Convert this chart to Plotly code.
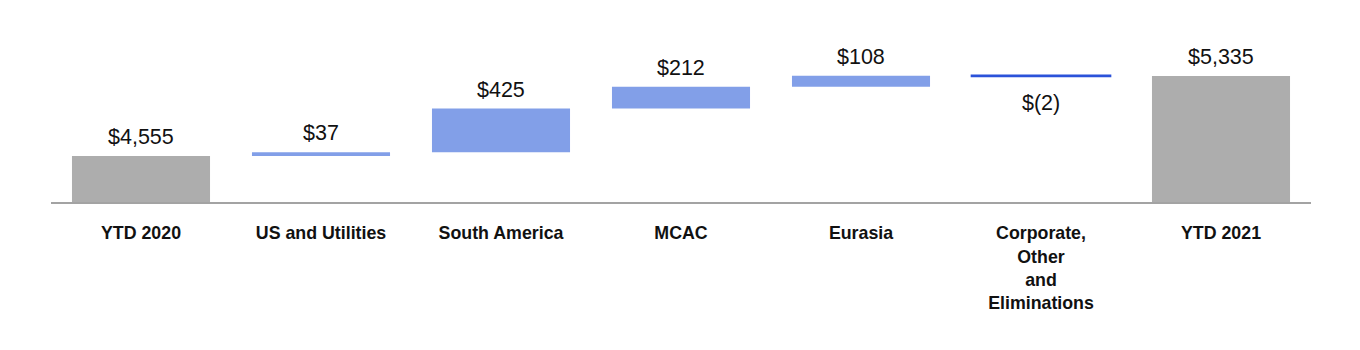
import plotly.graph_objects as go

# Operating figures, YTD 2020 -> YTD 2021 bridge ($ millions)
categories = ["YTD 2020", "US and Utilities", "South America", "MCAC", "Eurasia",
              "Corporate,<br>Other<br>and<br>Eliminations", "YTD 2021"]
changes = [4555, 37, 425, 212, 108, -2, 5335]
kinds = ["total", "step", "step", "step", "step", "step", "total"]
value_labels = ["$4,555", "$37", "$425", "$212", "$108", "$(2)", "$5,335"]

GRAY = "#adadad"
BLUE = "#829fe8"
DARK_BLUE = "#2b52d9"

# floating bar bases from the running total
bases, heights, colors, line_w = [], [], [], []
running = 0
for kind, v in zip(kinds, changes):
    if kind == "total":
        bases.append(0)
        heights.append(v)
        running = v
        colors.append(GRAY)
        line_w.append(0)
    else:
        bases.append(running)
        heights.append(v)
        running += v
        if v < 0:
            colors.append(DARK_BLUE)
            line_w.append(2.6)
        else:
            colors.append(BLUE)
            line_w.append(0)

fig = go.Figure(go.Bar(
    x=categories, y=heights, base=bases,
    marker=dict(color=colors, line=dict(color=colors, width=line_w)),
    hoverinfo="skip",
))

for cat, b, h, lab in zip(categories, bases, heights, value_labels):
    if h >= 0:
        fig.add_annotation(x=cat, y=b + h, text=lab, showarrow=False,
                           yanchor="bottom", yshift=5)
    else:
        fig.add_annotation(x=cat, y=b + h, text=lab, showarrow=False,
                           yanchor="top", yshift=-13)

fig.update_annotations(font=dict(family="Liberation Sans, Arial, sans-serif",
                                 size=21.5, color="#111111"))

fig.update_layout(
    width=1360, height=350,
    margin=dict(l=51, r=49, t=10, b=148),
    paper_bgcolor="white", plot_bgcolor="white",
    bargap=0.233,
    showlegend=False,
    font=dict(family="Liberation Sans, Arial, sans-serif", color="#111111"),
)
fig.update_xaxes(
    showline=True, linecolor="#a3a3a3", linewidth=2,
    showgrid=False, zeroline=False, ticks="",
    tickfont=dict(size=17.8, weight="bold", color="#111111"),
    ticklabelstandoff=14,
)
fig.update_yaxes(visible=False, range=[4106.5, 5978.5], showgrid=False, zeroline=False)

fig.write_html("out.html")
